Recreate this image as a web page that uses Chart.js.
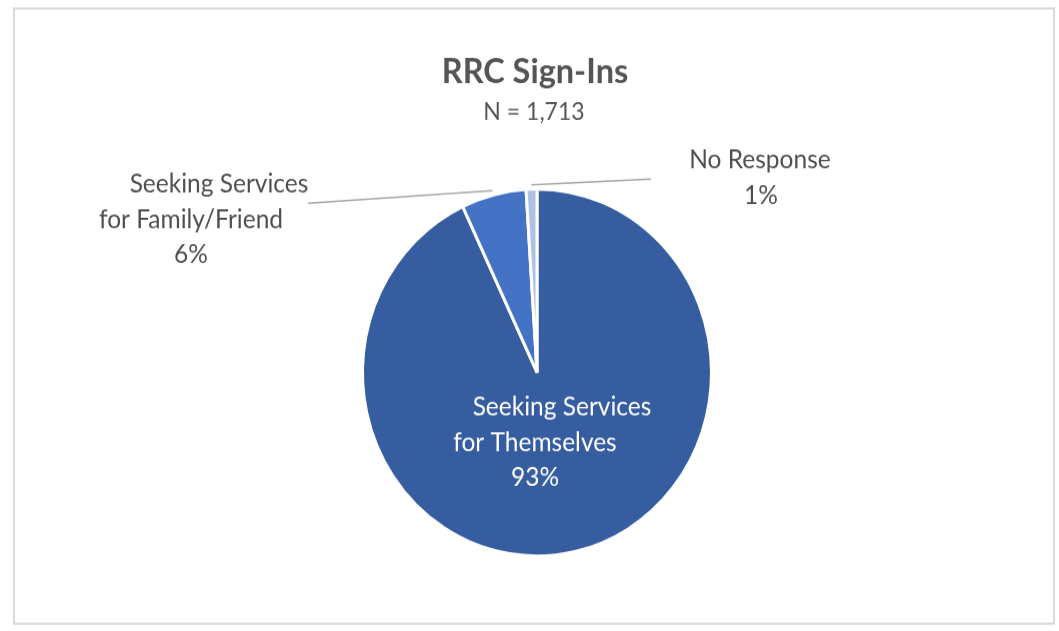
<!DOCTYPE html>
<html lang="en">
<head>
    <meta charset="UTF-8">
    <title>RRC Sign-Ins</title>
    <script src="https://cdn.jsdelivr.net/npm/chart.js"></script>
    <style>
        html, body {
            margin: 0;
            padding: 0;
            background: #fff;
        }
        body {
            width: 1059px;
            height: 631px;
            overflow: hidden;
        }
        #wrap {
            width: 1059px;
            height: 600px;
            transform: scaleY(1.0517);
            transform-origin: 0 0;
        }
    </style>
</head>
<body>
    <div id="wrap">
        <canvas id="signInChart" width="1059" height="600"></canvas>
    </div>

    <script>
        // data
        const chartTitle = 'RRC Sign-Ins';
        const chartSubtitle = 'N = 1,713';
        const categories = ['Seeking Services for Themselves', 'Seeking Services for Family/Friend', 'No Response'];
        const categoryLines = [
            ['Seeking Services', 'for Themselves'],
            ['Seeking Services', 'for Family/Friend'],
            ['No Response']
        ];
        const percentValues = [93, 6, 1];

        const sliceColors = ['#355DA0', '#4472C4', '#AFC2E4'];
        const labelColors = ['#ffffff', '#4f4f4f', '#4f4f4f'];

        // label placement relative to pie centre (px), per-line x shifts, leader start
        const labelLayout = [
            { dx: -2, dy: 41, lineDx: [27, 0, 0], leader: null },
            { dx: -346, dy: -171, lineDx: [28, 0, 0], leader: [-229, -161] },
            { dx: 224, dy: -194, lineDx: [-1, 0], leader: [114, -184] }
        ];

        const annotate = {
            id: 'annotate',
            beforeDraw(chart) {
                const ctx = chart.ctx;
                ctx.save();
                ctx.strokeStyle = '#d9d9d9';
                ctx.lineWidth = 2;
                ctx.strokeRect(14, 8, 1040, 585);
                ctx.restore();
            },
            afterDraw(chart) {
                const ctx = chart.ctx;
                const arcs = chart.getDatasetMeta(0).data;
                const cx = arcs[0].x, cy = arcs[0].y, r = arcs[0].outerRadius;

                ctx.save();
                ctx.textAlign = 'center';
                ctx.textBaseline = 'alphabetic';
                ctx.fillStyle = '#555555';
                ctx.font = 'bold 32.5px Lato';
                ctx.fillText(chartTitle, 535, 78.6);
                ctx.font = '23px Lato';
                ctx.fillText(chartSubtitle, 534, 114);

                ctx.font = '24.5px Lato';
                arcs.forEach((arc, i) => {
                    const lay = labelLayout[i];
                    const lines = categoryLines[i].concat([percentValues[i] + '%']);
                    ctx.fillStyle = labelColors[i];
                    lines.forEach((txt, j) => {
                        ctx.fillText(txt, cx + lay.dx + (lay.lineDx[j] || 0), cy + lay.dy + j * 33.5);
                    });
                    if (lay.leader) {
                        const mid = (arc.startAngle + arc.endAngle) / 2;
                        ctx.strokeStyle = '#a6a6a6';
                        ctx.lineWidth = 1.5;
                        ctx.beginPath();
                        ctx.moveTo(cx + lay.leader[0], cy + lay.leader[1]);
                        ctx.lineTo(cx + (r + 4) * Math.cos(mid), cy + (r + 4) * Math.sin(mid));
                        ctx.stroke();
                    }
                });
                ctx.restore();
            }
        };

        new Chart(document.getElementById('signInChart'), {
            type: 'pie',
            data: {
                labels: categories,
                datasets: [{
                    data: percentValues,
                    backgroundColor: sliceColors,
                    borderColor: '#ffffff',
                    borderWidth: 3,
                    radius: 174.5
                }]
            },
            options: {
                responsive: false,
                animation: false,
                events: [],
                layout: {
                    padding: { top: 179.7, bottom: 71.3, left: 362.5, right: 347.5 }
                },
                plugins: {
                    legend: { display: false },
                    tooltip: { enabled: false }
                }
            },
            plugins: [annotate]
        });
    </script>
</body>
</html>
